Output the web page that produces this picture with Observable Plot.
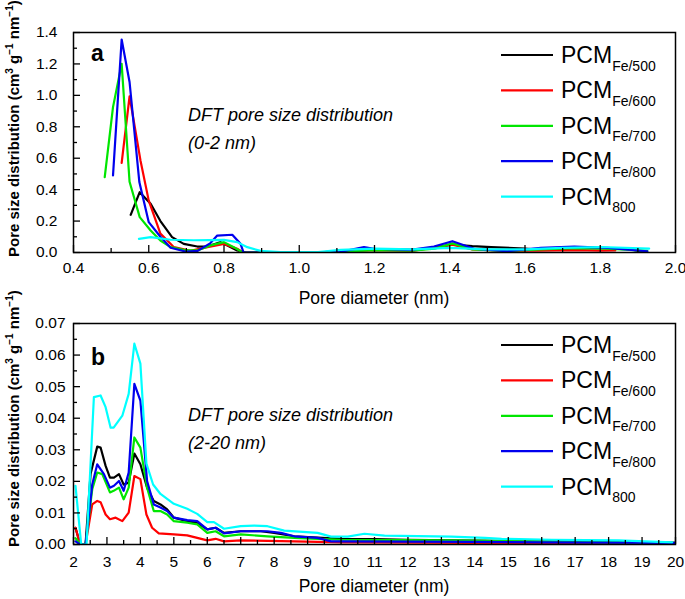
<!DOCTYPE html>
<html><head><meta charset="utf-8">
<script src="https://cdn.jsdelivr.net/npm/d3@7"></script>
<script src="https://cdn.jsdelivr.net/npm/@observablehq/plot@0.6"></script>
<style>
body{margin:0;background:#fff;}
#chart{width:685px;height:599px;position:relative;}
#chart svg{display:block;position:absolute;left:0;}
</style></head><body><div id="chart"></div>
<script>
// ---------- data ----------
const seriesMain = "PCM";
const seriesSub = ["Fe/500", "Fe/600", "Fe/700", "Fe/800", "800"];
const seriesColors = ["#000000", "#ff0000", "#00e600", "#0000ee", "#00ffff"];

// Panel a (0-2 nm)
const aX_Fe500 = [0.552,0.576,0.605,0.631,0.662,0.693,0.729,0.756,0.791,0.809,0.835,0.86,0.95,1.05,1.11,1.17,1.2,1.3,1.36,1.407,1.46,1.51,1.6,1.64,1.7,1.78,1.87,1.925];
const aY_Fe500 = [0.24,0.384,0.31,0.2,0.098,0.055,0.038,0.038,0.066,0.045,0.013,0,0,0,0.01,0.02,0.02,0.017,0.03,0.05,0.04,0.034,0.025,0.017,0.02,0.03,0.024,0.0];
const aX_Fe600 = [0.528,0.549,0.578,0.6,0.631,0.667,0.711,0.756,0.8,0.835,0.85,0.95,1.05,1.11,1.2,1.3,1.407,1.46,1.55,1.64,1.73,1.8,1.84];
const aY_Fe600 = [0.57,0.994,0.586,0.33,0.12,0.034,0.01,0.034,0.055,0.024,0,0,0,0.005,0.015,0.01,0.05,0.02,0.01,0.012,0.015,0.012,0.013];
const aX_Fe700 = [0.483,0.505,0.528,0.549,0.576,0.605,0.631,0.658,0.702,0.729,0.764,0.8,0.826,0.85,0.95,1.05,1.11,1.2,1.3,1.36,1.407,1.46,1.55,1.64,1.73,1.82,1.925];
const aY_Fe700 = [0.48,0.925,1.2,0.45,0.225,0.14,0.076,0.034,0.013,0.013,0.045,0.066,0.034,0,0,0,0.005,0.015,0.012,0.025,0.058,0.02,0.01,0.02,0.028,0.025,0.01];
const aX_Fe800 = [0.505,0.528,0.549,0.575,0.6,0.631,0.658,0.7,0.73,0.764,0.782,0.822,0.844,0.852,0.95,1.05,1.11,1.172,1.199,1.296,1.358,1.407,1.465,1.553,1.642,1.731,1.82,1.925];
const aY_Fe800 = [0.49,1.355,1.085,0.448,0.193,0.1,0.03,0.005,0.01,0.06,0.108,0.113,0.055,0,0,0,0.005,0.034,0.024,0.017,0.038,0.072,0.024,0.008,0.03,0.038,0.03,0.008];
const aX_800 = [0.574,0.605,0.658,0.72,0.8,0.835,0.862,0.897,0.95,1.05,1.11,1.2,1.3,1.4,1.5,1.6,1.7,1.8,1.93];
const aY_800 = [0.087,0.098,0.081,0.078,0.08,0.066,0.034,0.01,0.003,0.003,0.017,0.025,0.02,0.03,0.02,0.02,0.03,0.035,0.025];

// Panel b (2-20 nm)
const bX_Fe500 = [2.06,2.2,2.36,2.51,2.71,2.81,2.96,3.09,3.21,3.36,3.5,3.65,3.82,4.0,4.2,4.4,4.6,4.8,5.0,5.4,5.7,6.0,6.25,6.5,7.0,7.6,8.0,8.6,9.3,10,11,12,14,16,18,20];
const bY_Fe500 = [0.0053,0,0,0.0223,0.031,0.0307,0.0249,0.0212,0.0212,0.0223,0.019,0.0196,0.0288,0.0254,0.018,0.0138,0.0127,0.0111,0.0085,0.0074,0.0069,0.0048,0.0053,0.0037,0.0042,0.0042,0.0037,0.0026,0.0022,0.0018,0.0017,0.0015,0.0012,0.001,0.0008,0.0005];
const bX_Fe600 = [2.06,2.2,2.36,2.56,2.71,2.81,2.96,3.09,3.26,3.46,3.65,3.82,4.0,4.18,4.35,4.55,5.0,5.4,5.7,6.0,6.25,6.5,7.0,8.6,10,12,14,16,18,20];
const bY_Fe600 = [0.0053,0,0,0.0127,0.0138,0.0134,0.0095,0.008,0.0085,0.0074,0.0101,0.0217,0.0207,0.0095,0.0053,0.0035,0.0032,0.0029,0.0021,0.0013,0.0018,0.001,0.0013,0.001,0.0007,0.0006,0.0005,0.0004,0.0003,0.0003];
const bX_Fe700 = [2.06,2.2,2.36,2.56,2.71,2.86,3.09,3.2,3.36,3.5,3.65,3.82,4.0,4.2,4.4,4.6,4.8,5.0,5.4,5.7,6.0,6.25,6.5,7.0,7.8,8.6,9.3,10,12,14,16,18,20];
const bY_Fe700 = [0.002,0,0,0.0175,0.0228,0.0223,0.0165,0.017,0.018,0.0143,0.018,0.0339,0.0307,0.018,0.0106,0.0106,0.0095,0.0074,0.0069,0.0064,0.0037,0.0042,0.0026,0.0032,0.0026,0.0021,0.0018,0.0015,0.0014,0.0012,0.0009,0.0007,0.0005];
const bX_Fe800 = [2.06,2.2,2.36,2.56,2.71,2.91,3.09,3.21,3.36,3.5,3.65,3.82,4.0,4.2,4.4,4.6,4.8,5.0,5.4,5.7,6.0,6.25,6.5,7.0,7.8,8.2,8.6,9.3,9.7,10,12,14,16,18,20];
const bY_Fe800 = [0.001,0,0,0.019,0.0254,0.0223,0.018,0.0186,0.0201,0.017,0.0228,0.0509,0.0456,0.0201,0.0127,0.0117,0.0106,0.0085,0.0077,0.0074,0.0048,0.0053,0.0035,0.0042,0.0042,0.0037,0.0026,0.0021,0.001,0.001,0.0009,0.0008,0.0007,0.0006,0.0005];
const bX_800 = [2.06,2.23,2.39,2.61,2.81,2.96,3.11,3.2,3.46,3.65,3.82,4.0,4.18,4.38,4.6,5.0,5.4,5.7,6.0,6.2,6.5,7.0,7.4,7.8,8.3,9.3,9.7,10.2,10.7,11.3,13.3,14.3,14.8,16.3,18.3,19.9];
const bY_800 = [0.0186,0,0,0.0467,0.0472,0.0435,0.037,0.037,0.0408,0.0477,0.0636,0.0573,0.0256,0.019,0.016,0.0129,0.0113,0.0097,0.0071,0.0071,0.005,0.0058,0.006,0.0058,0.0044,0.0037,0.0025,0.0025,0.0034,0.0028,0.0025,0.0021,0.0018,0.0015,0.0013,0.0007];

// ticks
const aXMajor = [0.4,0.6,0.8,1.0,1.2,1.4,1.6,1.8,2.0];
const aXMinor = [0.5,0.7,0.9,1.1,1.3,1.5,1.7,1.9];
const aYMajor = [0,0.2,0.4,0.6,0.8,1.0,1.2,1.4];
const aYMinor = [0.1,0.3,0.5,0.7,0.9,1.1,1.3];
const bXMajor = [2,3,4,5,6,7,8,9,10,11,12,13,14,15,16,17,18,19,20];
const bXMinor = [2.5,3.5,4.5,5.5,6.5,7.5,8.5,9.5,10.5,11.5,12.5,13.5,14.5,15.5,16.5,17.5,18.5,19.5];
const bYMajor = [0,0.01,0.02,0.03,0.04,0.05,0.06,0.07];
const bYMinor = [0.005,0.015,0.025,0.035,0.045,0.055,0.065];

const xTitle = "Pore diameter (nm)";
const yTitle = "Pore size distribution (cm";
const annotA = ["DFT pore size distribution", "(0-2 nm)"];
const annotB = ["DFT pore size distribution", "(2-20 nm)"];

// ---------- drawing ----------
const FONT = "Liberation Sans, Arial, Helvetica, sans-serif";

function rowsOf(xs, ys, k) { return xs.map((x, i) => ({x, y: ys[i], k})); }

function panel(cfg) {
  const lines = cfg.series.map(([xs, ys], i) =>
    Plot.line(rowsOf(xs, ys, seriesSub[i]), {x: "x", y: "y", stroke: "k", strokeWidth: 2.2, clip: true}));
  const plot = Plot.plot({
    width: 685, height: cfg.height,
    marginLeft: 73, marginRight: 10, marginTop: cfg.marginTop, marginBottom: cfg.marginBottom,
    style: {fontFamily: FONT, fontSize: "15px", color: "#000", background: "none", overflow: "visible"},
    x: {domain: cfg.xDomain},
    y: {domain: cfg.yDomain},
    color: {domain: seriesSub, range: seriesColors},
    marks: [
      ...lines,
      Plot.axisX(cfg.xMajor, {tickSize: -7, tickFormat: () => "", label: null, strokeWidth: 1.3}),
      Plot.axisX(cfg.xMinor, {tickSize: -4, tickFormat: () => "", label: null, strokeWidth: 1.3}),
      Plot.axisY(cfg.yMajor, {tickSize: -7, tickFormat: () => "", label: null, strokeWidth: 1.3}),
      Plot.axisY(cfg.yMinor, {tickSize: -4, tickFormat: () => "", label: null, strokeWidth: 1.3}),
      Plot.axisX(cfg.xMajor, {tickSize: 0, tickPadding: cfg.xPad, tickFormat: cfg.xFormat, fontSize: 15.5, label: null}),
      Plot.axisY(cfg.yMajor, {tickSize: 0, tickPadding: cfg.yPad, tickFormat: cfg.yFormat, fontSize: 15.5, label: null}),
      Plot.frame({stroke: "#000", strokeWidth: 1.5})
    ]
  });
  plot.style.top = cfg.top + "px";
  const svg = d3.select(plot);
  const txt = () => svg.append("text").attr("font-family", FONT).attr("text-anchor", "start").attr("fill", "#000");
  // x title
  txt().attr("x", 374).attr("y", cfg.xTitleY).attr("text-anchor", "middle").attr("font-size", 17.5).text(xTitle);
  // panel letter
  txt().attr("x", 91).attr("y", cfg.letterY).attr("font-weight", "bold").attr("font-size", 23).text(cfg.letter);
  // annotation
  cfg.annot.forEach((t, i) => txt().attr("x", 188).attr("y", cfg.annotY + i * 28)
    .attr("font-style", "italic").attr("font-size", 18).text(t));
  // legend
  seriesSub.forEach((s, i) => {
    const y = cfg.legY + i * 35.4;
    svg.append("line").attr("x1", 501).attr("x2", 553).attr("y1", y).attr("y2", y)
      .attr("stroke", seriesColors[i]).attr("stroke-width", 2.2);
    const t = txt().attr("x", 561).attr("y", y + 8).attr("font-size", 23);
    t.append("tspan").text(seriesMain);
    t.append("tspan").attr("font-size", 14).attr("dy", 7.5).text(s);
  });
  // y title
  const yt = txt().attr("transform", `translate(19,${cfg.yTitleY}) rotate(-90)`)
    .attr("font-weight", "bold").attr("font-size", 15);
  yt.append("tspan").text(yTitle);
  yt.append("tspan").attr("font-size", 10).attr("dy", -6).text("3");
  yt.append("tspan").attr("dy", 6).text(" g");
  yt.append("tspan").attr("font-size", 10).attr("dy", -6).text("\u22121");
  yt.append("tspan").attr("dy", 6).text(" nm");
  yt.append("tspan").attr("font-size", 10).attr("dy", -6).text("\u22121");
  yt.append("tspan").attr("dy", 6).text(")");
  return plot;
}

const chart = document.getElementById("chart");
chart.append(panel({
  top: 0, height: 310, marginTop: 32, marginBottom: 58,
  xDomain: [0.4, 2.0], yDomain: [0, 1.4],
  xMajor: aXMajor, xMinor: aXMinor, yMajor: aYMajor, yMinor: aYMinor,
  xFormat: d3.format(".1f"), yFormat: d3.format(".1f"), xPad: 9, yPad: 16, xTitleY: 304,
  series: [[aX_Fe500, aY_Fe500], [aX_Fe600, aY_Fe600], [aX_Fe700, aY_Fe700], [aX_Fe800, aY_Fe800], [aX_800, aY_800]],
  letter: "a", letterY: 61, annot: annotA, annotY: 121, legY: 55, yTitleY: 257
}));
chart.append(panel({
  top: 289, height: 310, marginTop: 34, marginBottom: 55,
  xDomain: [2, 20], yDomain: [0, 0.07],
  xMajor: bXMajor, xMinor: bXMinor, yMajor: bYMajor, yMinor: bYMinor,
  xFormat: d3.format("d"), yFormat: d3.format(".2f"), xPad: 11, yPad: 8, xTitleY: 303,
  series: [[bX_Fe500, bY_Fe500], [bX_Fe600, bY_Fe600], [bX_Fe700, bY_Fe700], [bX_Fe800, bY_Fe800], [bX_800, bY_800]],
  letter: "b", letterY: 76, annot: annotB, annotY: 132, legY: 56, yTitleY: 258
}));
</script></body></html>
